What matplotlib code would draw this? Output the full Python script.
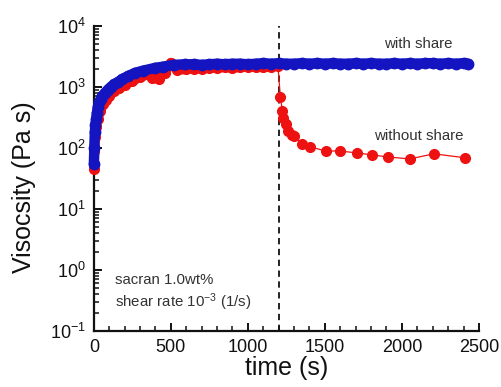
import matplotlib
matplotlib.use("Agg")
import matplotlib.pyplot as plt
from matplotlib.ticker import MultipleLocator, LogLocator

plt.rcParams['font.family'] = ['Liberation Sans', 'DejaVu Sans']
plt.rcParams['mathtext.fontset'] = 'custom'
plt.rcParams['mathtext.rm'] = 'Liberation Sans'
plt.rcParams['mathtext.it'] = 'Liberation Sans:italic'
plt.rcParams['mathtext.bf'] = 'Liberation Sans:bold'

# --- data ---
with_t = [0, 3, 6, 10, 15, 20, 26, 35, 45, 55, 72, 90, 110, 130, 156, 185, 220,
          267, 320, 397, 450, 520, 592, 650, 700, 750, 800, 850, 900, 950, 1000,
          1050, 1100, 1150, 1200, 1250, 1300, 1350, 1400, 1450, 1500, 1550, 1600,
          1650, 1700, 1750, 1800, 1850, 1900, 1950, 2000, 2050, 2100, 2150, 2200,
          2250, 2300, 2350, 2400, 2430]
with_v = [55, 100, 180, 240, 300, 380, 470, 560, 640, 710, 800, 900, 1000, 1100,
          1200, 1350, 1500, 1700, 1850, 2050, 2150, 2300, 2350, 2350, 2300, 2350,
          2400, 2350, 2400, 2400, 2350, 2400, 2450, 2400, 2450, 2400, 2400, 2450,
          2400, 2450, 2400, 2450, 2400, 2400, 2450, 2400, 2450, 2400, 2400, 2450,
          2400, 2450, 2400, 2450, 2450, 2400, 2450, 2400, 2450, 2400]

without_t = [0, 3, 8, 15, 25, 40, 60, 80, 100, 130, 160, 200, 250, 300, 350, 380,
             420, 460, 500, 540, 600, 650, 700, 750, 800, 850, 900, 950, 1000,
             1050, 1100, 1150, 1195,
             1211, 1224, 1230, 1250, 1263, 1289, 1302, 1354, 1406, 1504, 1595,
             1706, 1803, 1908, 2051, 2207, 2409]
without_v = [45, 90, 150, 220, 300, 400, 520, 620, 720, 850, 950, 1080, 1250, 1450,
             1600, 1400, 1350, 1700, 2500, 1900, 1950, 2000, 2000, 2050, 2050,
             2100, 2050, 2100, 2150, 2100, 2100, 2150, 2200,
             686, 405, 310, 247, 190, 163, 157, 116, 104, 89, 89, 83, 77, 71, 66,
             80, 69]

step_time = 1200
x_ticks = [0, 500, 1000, 1500, 2000, 2500]

red = '#ee1111'
blue = '#1414c0'

fig = plt.figure(figsize=(5.02, 3.87), dpi=100)
ax = fig.add_axes([0.187, 0.145, 0.767, 0.788])

# split red series at the step
n_pre = sum(1 for t in without_t if t <= step_time)
pre_t, pre_v = without_t[:n_pre], without_v[:n_pre]
post_t, post_v = without_t[n_pre - 1:], without_v[n_pre - 1:]

ax.plot(pre_t, pre_v, color=red, lw=7, marker='o', ms=7, mec=red, mfc=red,
        solid_capstyle='round', solid_joinstyle='round', clip_on=False, zorder=3)
ax.plot(post_t, post_v, color=red, lw=0.9, zorder=3, clip_on=False)
ax.plot(post_t[1:], post_v[1:], ls='none', marker='o', ms=7, mec=red, mfc=red,
        zorder=4, clip_on=False)
ax.plot(with_t, with_v, color=blue, lw=7.5, marker='o', ms=7.5, mec=blue, mfc=blue,
        solid_capstyle='round', solid_joinstyle='round', clip_on=False, zorder=5)

ax.axvline(step_time, color='#111111', lw=1.3, ls=(0, (3.5, 2.5)), zorder=2)

ax.set_yscale('log')
ax.set_ylim(0.1, 1e4)
ax.set_xlim(0, 2500)
ax.set_xticks(x_ticks)
ax.set_xticklabels([str(v) for v in x_ticks])
ax.xaxis.set_minor_locator(MultipleLocator(100))
ax.yaxis.set_major_locator(LogLocator(base=10, numticks=10))
ax.yaxis.set_minor_locator(LogLocator(base=10, subs=range(2, 10), numticks=20))

for s in ['top', 'right']:
    ax.spines[s].set_visible(False)
for s in ['left', 'bottom']:
    ax.spines[s].set_linewidth(1.6)
    ax.spines[s].set_color('#111111')

ax.tick_params(which='major', direction='in', length=6, width=1.4, labelsize=13,
               pad=6, colors='#111111')
ax.tick_params(which='minor', direction='in', length=3.5, width=1.1, colors='#111111')

ax.set_xlabel('time (s)', fontsize=18, labelpad=0, color='#111111')
ax.set_ylabel('Visocsity (Pa s)', fontsize=18, color='#111111')
ax.yaxis.set_label_coords(-0.15, 0.47)

tc = '#333333'
fs = 10.8
ax.text(2109, 5070, 'with share', fontsize=fs, ha='center', va='center', color=tc)
ax.text(2109, 158, 'without share', fontsize=fs, ha='center', va='center', color=tc)
ax.text(137, 0.686, 'sacran 1.0wt%', fontsize=fs, ha='left', va='center', color=tc)
ax.text(137, 0.29, r'shear rate 10$^{-3}$ (1/s)', fontsize=fs, ha='left',
        va='center', color=tc)

fig.savefig('out.png', dpi=100)
